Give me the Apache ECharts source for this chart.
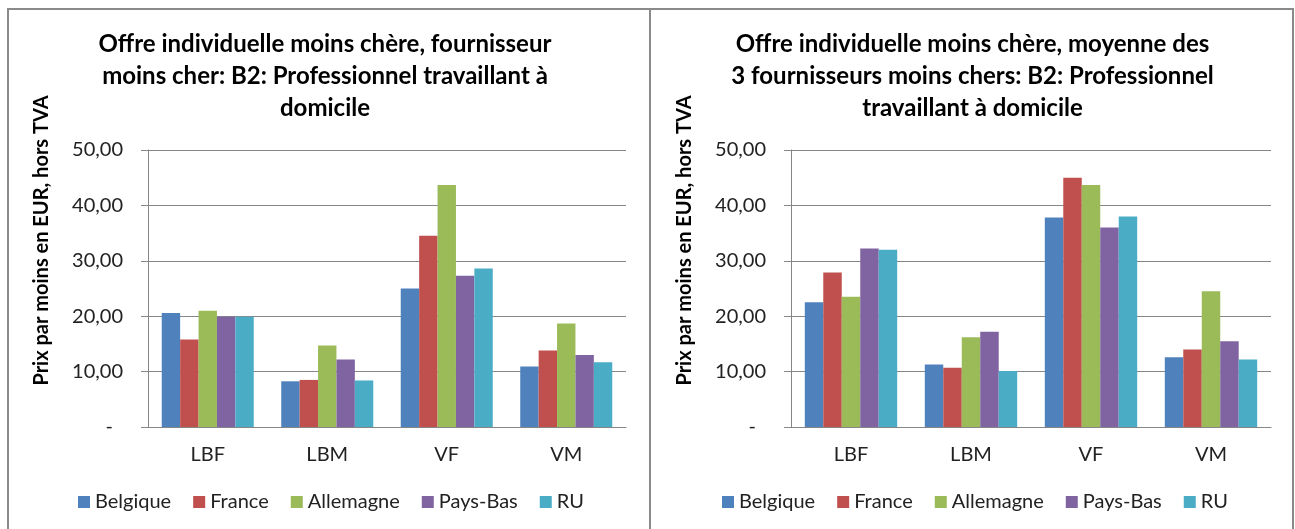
<!DOCTYPE html>
<html>
<head>
<meta charset="utf-8">
<script src="https://cdn.jsdelivr.net/npm/echarts@6/dist/echarts.min.js"></script>
<style>
  body { margin: 0; background: #fff; width: 1295px; height: 529px; overflow: hidden; position: relative; }
  .frame { position: absolute; left: 7px; top: 8px; width: 1283px; height: 600px; border: 2px solid #8a8a8a; }
  .divider { position: absolute; left: 649px; top: 8px; width: 2px; height: 600px; background: #8a8a8a; }
  #left { position: absolute; left: 0; top: 0; width: 650px; height: 529px; }
  #right { position: absolute; left: 650px; top: 0; width: 645px; height: 529px; }
</style>
</head>
<body>
<div class="frame"></div>
<div class="divider"></div>
<div id="left"></div>
<div id="right"></div>
<script>
// categories et pays
var categories = ["LBF", "LBM", "VF", "VM"];
var countries = ["Belgique", "France", "Allemagne", "Pays-Bas", "RU"];
var colors = ["#4F81BD", "#C0504D", "#9BBB59", "#8064A2", "#4BACC6"];

// fournisseur moins cher
var belgique1 = [20.6, 8.25, 25.0, 10.9];
var france1 = [15.8, 8.5, 34.5, 13.8];
var allemagne1 = [21.0, 14.7, 43.7, 18.7];
var paysBas1 = [19.9, 12.2, 27.3, 13.0];
var ru1 = [19.9, 8.4, 28.6, 11.7];

// moyenne des 3 fournisseurs moins chers
var belgique2 = [22.5, 11.3, 37.8, 12.6];
var france2 = [27.9, 10.7, 45.0, 14.0];
var allemagne2 = [23.5, 16.2, 43.7, 24.5];
var paysBas2 = [32.2, 17.2, 36.0, 15.5];
var ru2 = [32.0, 10.1, 38.0, 12.2];

var yTicks = { min: 0, max: 50, interval: 10 };
var font = "Lato";

function makeOption(title, values, gridLeft, legendLeft) {
  var series = [];
  for (let i = 0; i < countries.length; i++) {
    series.push({
      name: countries[i],
      type: "bar",
      data: values[i],
      barGap: "0%",
      barCategoryGap: "23%",
      itemStyle: { color: colors[i] },
    });
  }
  return {
    animation: false,
    textStyle: { fontFamily: font },
    title: {
      text: title,
      left: "center",
      top: 23,
      textStyle: { fontFamily: font, fontSize: 24, fontWeight: "bold", color: "#000", lineHeight: 32 },
    },
    legend: {
      top: 487,
      left: legendLeft,
      icon: "rect",
      itemWidth: 12,
      itemHeight: 12,
      itemGap: 22,
      textStyle: { fontFamily: font, fontSize: 20, color: "#222" },
      data: countries,
    },
    grid: { left: gridLeft, right: 24, top: 150, bottom: 102 },
    xAxis: {
      type: "category",
      data: categories,
      axisLine: { lineStyle: { color: "#868686" } },
      axisTick: { length: 6, lineStyle: { color: "#868686" } },
      axisLabel: { margin: 18, fontSize: 20, color: "#222", fontFamily: font },
    },
    yAxis: {
      type: "value",
      min: yTicks.min,
      max: yTicks.max,
      interval: yTicks.interval,
      name: "Prix par moins en EUR, hors TVA",
      nameLocation: "middle",
      nameGap: 96,
      nameTextStyle: { fontFamily: font, fontSize: 20, fontWeight: "bold", color: "#000", padding: [0, 0, 0, 96] },
      axisLine: { show: true, lineStyle: { color: "#868686" } },
      axisTick: { show: true, inside: false, length: 7, lineStyle: { color: "#868686" } },
      splitLine: { lineStyle: { color: "#868686" } },
      axisLabel: {
        margin: 25,
        fontSize: 20,
        color: "#222",
        fontFamily: font,
        formatter: function (v) {
          if (v === 0) return "{d|-}";
          return v.toFixed(2).replace(".", ",");
        },
        rich: { d: { fontSize: 20, color: "#222", padding: [0, 10, 0, 0] } },
      },
    },
    series: series,
  };
}

var leftChart = echarts.init(document.getElementById("left"));
leftChart.setOption(
  makeOption(
    "Offre individuelle moins chère, fournisseur\nmoins cher: B2: Professionnel travaillant à\ndomicile",
    [belgique1, france1, allemagne1, paysBas1, ru1],
    148,
    73
  )
);

var rightChart = echarts.init(document.getElementById("right"));
rightChart.setOption(
  makeOption(
    "Offre individuelle moins chère, moyenne des\n3 fournisseurs moins chers: B2: Professionnel\ntravaillant à domicile",
    [belgique2, france2, allemagne2, paysBas2, ru2],
    141,
    67
  )
);
</script>
</body>
</html>
